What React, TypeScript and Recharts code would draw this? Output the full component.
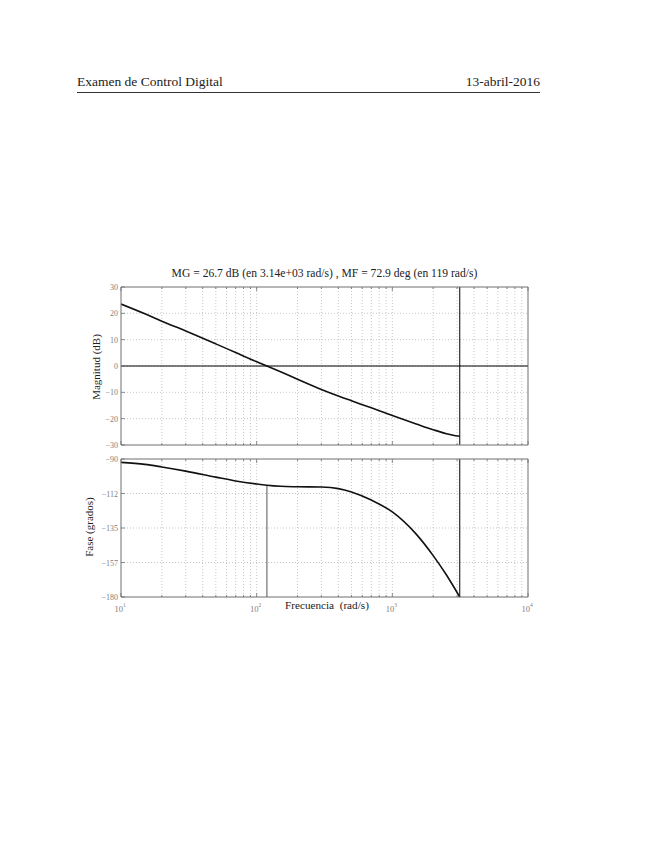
import { LineChart, Line, XAxis, YAxis, ReferenceLine } from "recharts";

const freqs = [10, 15, 20, 30, 50, 70, 100, 119, 150, 200, 300, 400, 500, 700, 1000, 1500, 2000, 2500, 3140];
const magDb = [23.5, 19.8, 17.0, 13.3, 8.4, 5.1, 1.6, 0, -2.2, -5.0, -8.9, -11.4, -13.2, -15.9, -18.8, -22.0, -24.2, -25.7, -26.7];
const phaseDeg = [-92.2, -93.5, -95.2, -97.9, -101.8, -104.3, -106.3, -107.1, -107.8, -108.1, -108.3, -109.3, -111.5, -116.8, -124.5, -139, -153, -165.5, -180];

const magTicks = [-30, -20, -10, 0, 10, 20, 30];
const phaseTicks = [-180, -157.5, -135, -112.5, -90];
const phaseTickLabels = ["\u2212180", "\u2212157", "\u2212135", "\u2212112", "\u221290"];
const decades = [10, 100, 1000, 10000];
const xGrid = [20, 30, 40, 50, 60, 70, 80, 90, 100, 200, 300, 400, 500, 600, 700, 800, 900, 1000, 2000, 3000, 4000, 5000, 6000, 7000, 8000, 9000];
const xTicksAll = [10, ...xGrid, 10000];

const gmFreq = 3140;
const pmFreq = 119;
const pmPhase = -107.1;

const magData = freqs.map((f, i) => ({ f, v: magDb[i] }));
const phaseData = freqs.map((f, i) => ({ f, v: phaseDeg[i] }));

const FONT = "'Liberation Serif', 'DejaVu Serif', serif";
const BOX = "#6e6e6e";
const TICKC = "#808080";

const isDecade = (v: number) => decades.includes(v);

const YTickLeft = ({ x, y, payload, labels, ticks }: any) => {
  const idx = ticks.indexOf(payload.value);
  const txt = labels ? labels[idx] : String(payload.value).replace("-", "\u2212");
  return (
    <g>
      <line x1={x} x2={x + 4} y1={y} y2={y} stroke={BOX} strokeWidth={0.8} />
      <text x={x - 3} y={y + 3} textAnchor="end" fontSize={8} fill={TICKC} fontFamily={FONT}>
        {txt}
      </text>
    </g>
  );
};

const YTickRight = ({ x, y }: any) => (
  <line x1={x} x2={x - 4} y1={y} y2={y} stroke={BOX} strokeWidth={0.8} />
);

const XTickBottom = ({ x, y, payload, showLabel }: any) => {
  const major = isDecade(payload.value);
  const len = major ? 4 : 2;
  const exp = Math.round(Math.log10(payload.value));
  return (
    <g>
      <line x1={x} x2={x} y1={y} y2={y - len} stroke={BOX} strokeWidth={0.8} />
      {showLabel && major && (
        <text x={x - 1} y={y + 15} textAnchor="middle" fontSize={8.5} fill={TICKC} fontFamily={FONT}>
          10
          <tspan fontSize={5.5} dy={-5}>{exp}</tspan>
        </text>
      )}
    </g>
  );
};

const XTickTop = ({ x, y, payload }: any) => {
  const len = isDecade(payload.value) ? 4 : 2;
  return <line x1={x} x2={x} y1={y} y2={y + len} stroke={BOX} strokeWidth={0.8} />;
};

const gridLines = (yTicks: number[]) => (
  <>
    {xGrid.map((g) => (
      <ReferenceLine key={"vx" + g} x={g} stroke="#b0b0b0" strokeWidth={0.7} strokeDasharray="1 2" />
    ))}
    {yTicks.slice(1, -1).map((g) => (
      <ReferenceLine key={"hy" + g} y={g} stroke="#b0b0b0" strokeWidth={0.7} strokeDasharray="1 2" />
    ))}
  </>
);

const axes = (domain: number[], ticks: number[], labels: string[] | null, showXLabels: boolean) => [
  <XAxis
    key="xb"
    dataKey="f"
    type="number"
    scale="log"
    domain={[10, 10000]}
    ticks={xTicksAll}
    allowDataOverflow
    height={1}
    tickSize={0}
    tickMargin={0}
    interval={0}
    axisLine={{ stroke: BOX, strokeWidth: 1 }}
    tickLine={false}
    tick={(p: any) => <XTickBottom {...p} showLabel={showXLabels} />}
  />,
  <XAxis
    key="xt"
    xAxisId="top"
    orientation="top"
    dataKey="f"
    type="number"
    scale="log"
    domain={[10, 10000]}
    ticks={xTicksAll}
    allowDataOverflow
    height={1}
    tickSize={0}
    tickMargin={0}
    interval={0}
    axisLine={{ stroke: BOX, strokeWidth: 1 }}
    tickLine={false}
    tick={(p: any) => <XTickTop {...p} />}
  />,
  <YAxis
    key="yl"
    type="number"
    domain={domain}
    ticks={ticks}
    interval={0}
    width={1}
    tickSize={0}
    tickMargin={0}
    axisLine={{ stroke: BOX, strokeWidth: 1 }}
    tickLine={false}
    tick={(p: any) => <YTickLeft {...p} labels={labels} ticks={ticks} />}
  />,
  <YAxis
    key="yr"
    yAxisId="right"
    orientation="right"
    type="number"
    domain={domain}
    ticks={ticks}
    interval={0}
    width={1}
    tickSize={0}
    tickMargin={0}
    axisLine={{ stroke: BOX, strokeWidth: 1 }}
    tickLine={false}
    tick={(p: any) => <YTickRight {...p} />}
  />,
];

export default function App() {
  return (
    <div style={{ position: "absolute", left: 0, top: 0, width: 655, height: 848, background: "#fff", fontFamily: FONT }}>
      {/* cabecera */}
      <div style={{ position: "absolute", left: 77, top: 74, fontSize: 13.5, color: "#222" }}>Examen de Control Digital</div>
      <div style={{ position: "absolute", right: 655 - 540, top: 74, fontSize: 13.5, color: "#222" }}>13-abril-2016</div>
      <div style={{ position: "absolute", left: 77, top: 92, width: 463, height: 1, background: "#333" }} />

      <div style={{ position: "absolute", left: 121, width: 407, top: 267, textAlign: "center", fontSize: 11.6, color: "#222", whiteSpace: "nowrap" }}>
        MG = 26.7 dB (en 3.14e+03 rad/s) , MF = 72.9 deg (en 119 rad/s)
      </div>

      <div style={{ position: "absolute", left: 0, top: 270 }}>
        <LineChart width={655} height={190} data={magData} margin={{ top: 16, right: 126, bottom: 14, left: 120 }}>
          {gridLines(magTicks)}
          {axes([-30, 30], magTicks, null, false)}
          <ReferenceLine y={0} stroke="#000" strokeWidth={1} />
          <ReferenceLine x={gmFreq} stroke="#000" strokeWidth={1} />
          <Line dataKey="v" type="monotone" stroke="#111" strokeWidth={1.6} dot={false} isAnimationActive={false} />
        </LineChart>
      </div>

      <div style={{ position: "absolute", left: 0, top: 440 }}>
        <LineChart width={655} height={180} data={phaseData} margin={{ top: 18, right: 126, bottom: 22, left: 120 }}>
          {gridLines(phaseTicks)}
          {axes([-180, -90], phaseTicks, phaseTickLabels, true)}
          <ReferenceLine x={gmFreq} stroke="#000" strokeWidth={1} />
          <ReferenceLine
            segment={[
              { x: pmFreq, y: pmPhase },
              { x: pmFreq, y: -180 },
            ]}
            stroke="#555"
            strokeWidth={1}
          />
          <Line dataKey="v" type="monotone" stroke="#111" strokeWidth={1.6} dot={false} isAnimationActive={false} />
        </LineChart>
      </div>

      {/* etiquetas de ejes */}
      <div style={{ position: "absolute", left: 96, top: 367, transform: "translate(-50%, -50%) rotate(-90deg)", fontSize: 11, color: "#222", whiteSpace: "nowrap" }}>
        Magnitud (dB)
      </div>
      <div style={{ position: "absolute", left: 89, top: 527, transform: "translate(-50%, -50%) rotate(-90deg)", fontSize: 11, color: "#222", whiteSpace: "nowrap" }}>
        Fase (grados)
      </div>
      <div style={{ position: "absolute", left: 285, top: 599, fontSize: 11.2, color: "#222", whiteSpace: "nowrap" }}>
        Frecuencia&nbsp;&nbsp;(rad/s)
      </div>
    </div>
  );
}
